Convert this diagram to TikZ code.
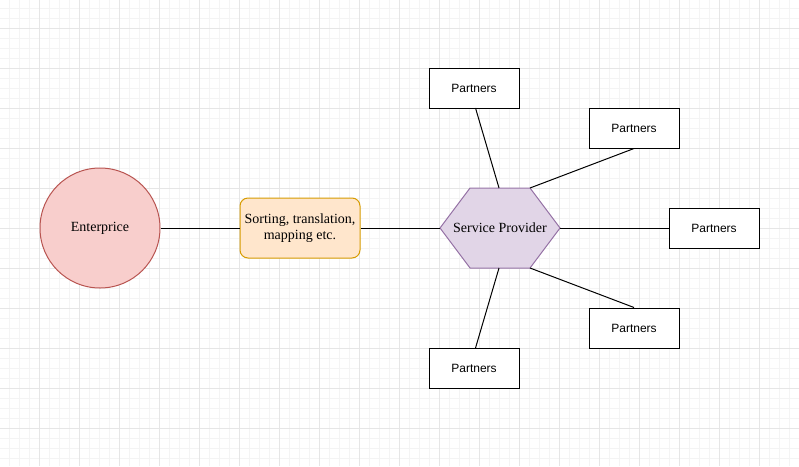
\documentclass[tikz,border=0pt]{standalone}
\usepackage{fontspec}
\setmainfont{Liberation Serif}
\newfontfamily\partfont{Liberation Sans}
\definecolor{entfill}{HTML}{F8CECC}
\definecolor{entdraw}{HTML}{B85450}
\definecolor{sortfill}{HTML}{FFE6CC}
\definecolor{sortdraw}{HTML}{D79B00}
\definecolor{hexfill}{HTML}{E1D5E7}
\definecolor{hexdraw}{HTML}{9673A6}
\definecolor{gridminor}{HTML}{F4F4F4}
\definecolor{gridmajor}{HTML}{E6E6E6}
\tikzset{
  partbox/.style={draw=black, fill=white, line width=1pt, minimum width=90pt, minimum height=40pt, inner sep=0pt, font=\partfont\fontsize{12}{14}\selectfont},
  conn/.style={draw=black, line width=1pt},
  serif14/.style={font=\fontsize{14}{16}\selectfont, align=center}
}
\begin{document}
\begin{tikzpicture}[x=1pt,y=-1pt]
\useasboundingbox (0,0) rectangle (799,466);
\fill[white] (0,0) rectangle (799,466);
% grid
\foreach \gx in {9.5,19.5,...,799} \draw[gridminor, line width=1pt] (\gx,0) -- (\gx,466);
\foreach \gy in {8.5,18.5,...,466} \draw[gridminor, line width=1pt] (0,\gy) -- (799,\gy);
\foreach \gx in {39.5,79.5,...,799} \draw[gridmajor, line width=1pt] (\gx,0) -- (\gx,466);
\foreach \gy in {28.5,68.5,...,466} \draw[gridmajor, line width=1pt] (0,\gy) -- (799,\gy);

% Enterprise
\node[circle, draw=entdraw, fill=entfill, line width=1pt, minimum size=120pt, inner sep=0pt, serif14] (ent) at (100,228) {Enterprice};
% Sorting
\node[rectangle, rounded corners=8pt, draw=sortdraw, fill=sortfill, line width=1pt, minimum width=120pt, minimum height=60pt, inner sep=0pt, serif14] (sort) at (300,228) {Sorting, translation,\\mapping etc.};
% Hexagon
\coordinate (hexL) at (440,228);
\coordinate (hexTL) at (470,188);
\coordinate (hexTR) at (530,188);
\coordinate (hexR) at (560,228);
\coordinate (hexBR) at (530,268);
\coordinate (hexBL) at (470,268);
\coordinate (hexT) at (499,188);
\coordinate (hexB) at (499,268);
\filldraw[fill=hexfill, draw=hexdraw, line width=1pt] (hexL) -- (hexTL) -- (hexTR) -- (hexR) -- (hexBR) -- (hexBL) -- cycle;
\node[serif14, inner sep=0pt] (hex) at (500,228) {Service Provider};

% Partners
\node[partbox] (p1) at (474,88) {Partners};
\node[partbox] (p2) at (634,128) {Partners};
\node[partbox] (p3) at (714,228) {Partners};
\node[partbox] (p4) at (634,328) {Partners};
\node[partbox] (p5) at (474,368) {Partners};

\coordinate (p1b) at (475.5,108);
\coordinate (p5t) at (475.5,348);

% connectors
\draw[conn] (ent.east) -- (sort.west);
\draw[conn] (sort.east) -- (hexL);
\draw[conn] (hexR) -- (p3.west);
\draw[conn] (p1b) -- (hexT);
\draw[conn] (p2.south) -- (hexTR);
\draw[conn] (p4.north) -- (hexBR);
\draw[conn] (p5t) -- (hexB);
\end{tikzpicture}
\end{document}
